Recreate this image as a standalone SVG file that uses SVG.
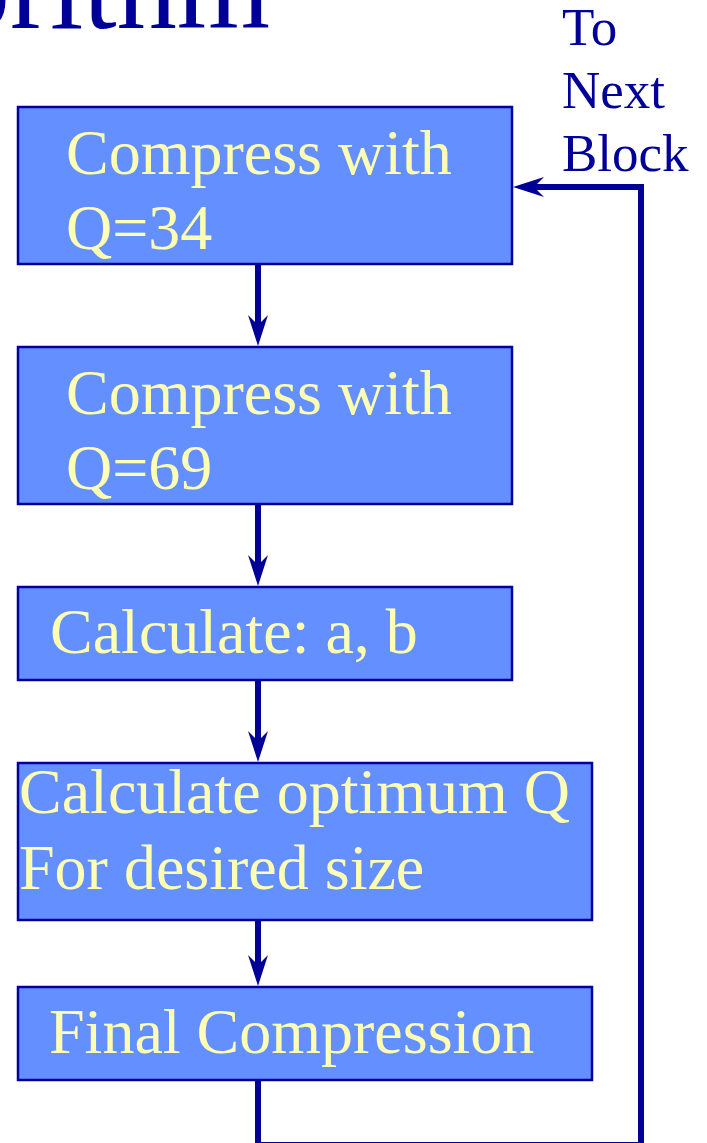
<svg xmlns="http://www.w3.org/2000/svg" width="707" height="1143" viewBox="0 0 707 1143">
<style>
.box{fill:#6490FF;stroke:#000099;stroke-width:2.5}
.bt{font-family:"Liberation Serif","Times New Roman",serif;font-size:64px;fill:#FFFFB4}
.lbl{font-family:"Liberation Serif","Times New Roman",serif;font-size:53px;fill:#000099}
.title{font-family:"Liberation Serif","Times New Roman",serif;font-size:120px;fill:#000099}
.conn{fill:none;stroke:#000099;stroke-width:6}
</style>
<defs>
<marker id="ah" viewBox="-32 -12 34 24" refX="-21" refY="0" markerWidth="34" markerHeight="24" orient="auto" markerUnits="userSpaceOnUse">
<path d="M0,0 L-31,-10 L-21,0 L-31,10 Z" fill="#000099"/>
</marker>
</defs>
<rect width="707" height="1143" fill="#FFFFFF"/>
<text class="title" x="270" y="28" text-anchor="end">Algorithm</text>
<g id="label-next">
<text class="lbl" x="562" y="45">To</text>
<text class="lbl" x="562" y="108">Next</text>
<text class="lbl" x="562" y="171">Block</text>
</g>
<g id="connectors">
<line class="conn" x1="258" y1="264" x2="258" y2="325" marker-end="url(#ah)"/>
<line class="conn" x1="258" y1="504" x2="258" y2="565" marker-end="url(#ah)"/>
<line class="conn" x1="258" y1="680" x2="258" y2="741" marker-end="url(#ah)"/>
<line class="conn" x1="258" y1="920" x2="258" y2="965" marker-end="url(#ah)"/>
<path class="conn" d="M258,1080 V1145 H641 V187 H534" marker-end="url(#ah)"/>
</g>
<g id="node1">
<rect class="box" x="18" y="107" width="494" height="157"/>
<text class="bt" x="66" y="174">Compress with</text>
<text class="bt" x="66" y="249">Q=34</text>
</g>
<g id="node2">
<rect class="box" x="18" y="347" width="494" height="157"/>
<text class="bt" x="66" y="414">Compress with</text>
<text class="bt" x="66" y="489">Q=69</text>
</g>
<g id="node3">
<rect class="box" x="18" y="587" width="494" height="93"/>
<text class="bt" x="50" y="653">Calculate: a, b</text>
</g>
<g id="node4">
<rect class="box" x="18" y="763" width="574" height="157"/>
<text class="bt" x="19" y="813">Calculate optimum Q</text>
<text class="bt" x="19" y="889">For desired size</text>
</g>
<g id="node5">
<rect class="box" x="18" y="987" width="574" height="93"/>
<text class="bt" x="49" y="1053">Final Compression</text>
</g>
</svg>
